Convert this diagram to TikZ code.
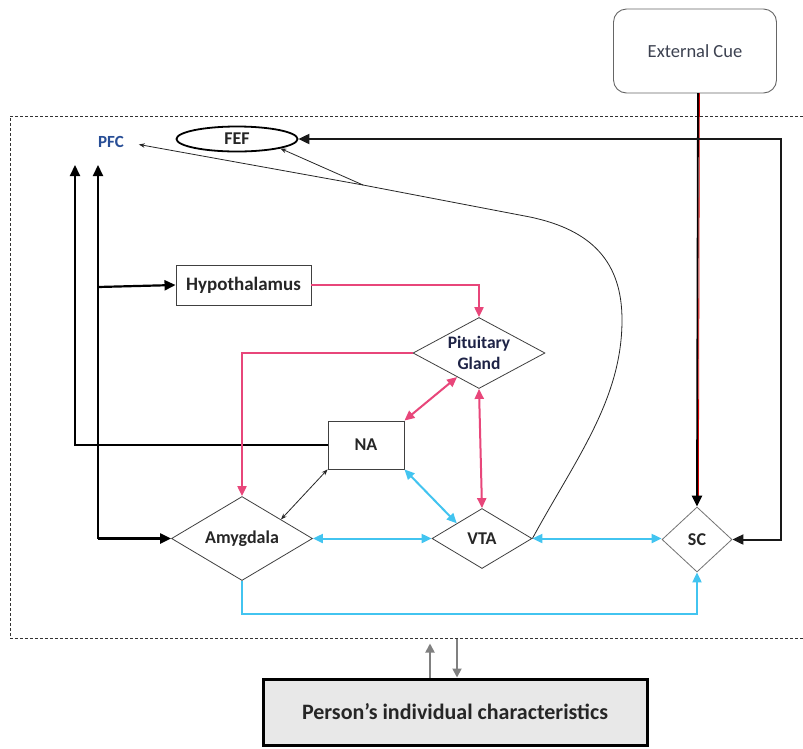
\documentclass[tikz,border=0pt]{standalone}
\usepackage{fontspec}
\setmainfont{Carlito}
\usetikzlibrary{shapes.geometric,arrows.meta,calc}
\definecolor{pinkc}{RGB}{232,70,122}
\definecolor{bluec}{RGB}{66,196,240}
\definecolor{pfcblue}{RGB}{40,78,150}
\definecolor{navy}{RGB}{30,35,70}
\definecolor{cuegray}{RGB}{60,65,80}
\definecolor{boxgray}{RGB}{232,232,232}
\begin{document}
\begin{tikzpicture}[x=1pt,y=-1pt,
  lbl/.style={font=\fontsize{18}{20}\selectfont\bfseries, text=black!85},
  rbox/.style={draw=black!75, line width=0.9pt, rectangle, inner sep=0pt},
  dia/.style={draw=black!75, line width=0.8pt, diamond, inner sep=0pt, minimum width=#1},
  blkarr/.style={draw=black, line width=2.2pt, -{Triangle[length=11pt,width=10pt]}},
  blkline/.style={draw=black, line width=2.2pt},
  pinkarr/.style={draw=pinkc, line width=2pt, -{Triangle[length=10pt,width=9pt]}},
  pinkdbl/.style={draw=pinkc, line width=2pt, {Triangle[length=10pt,width=9pt]}-{Triangle[length=10pt,width=9pt]}},
  bluearr/.style={draw=bluec, line width=2pt, -{Triangle[length=10pt,width=9pt]}},
  bluedbl/.style={draw=bluec, line width=2pt, {Triangle[length=10pt,width=9pt]}-{Triangle[length=10pt,width=9pt]}},
  thinarr/.style={draw=black!85, line width=0.8pt, -{Stealth[length=6pt,width=4.5pt]}},
  thindbl/.style={draw=black!85, line width=0.8pt, {Stealth[length=6pt,width=4.5pt]}-{Stealth[length=6pt,width=4.5pt]}},
  grayarr/.style={draw=black!50, line width=1.8pt, -{Triangle[length=9pt,width=9pt]}}
]
\useasboundingbox (0,0) rectangle (803,748);
\fill[white] (0,0) rectangle (803,748);

% dashed frame
\draw[black!80, line width=0.7pt, dash pattern=on 3pt off 2pt] (803,116) -- (10,116) -- (10,638) -- (803,638);

% nodes
\node[draw=black!60, line width=0.9pt, rounded corners=13pt, minimum width=163pt, minimum height=84pt,
      font=\fontsize{18.5}{20}\selectfont, text=cuegray] (ext) at (695,51) {External Cue};
\node[draw=black, line width=1.8pt, ellipse, minimum width=121pt, minimum height=25pt, inner sep=0pt, lbl] (fef) at (237,139) {FEF};
\node[font=\fontsize{17}{19}\selectfont\bfseries, text=pfcblue, inner sep=1pt] (pfc) at (111,142) {PFC};
\node[rbox, minimum width=135pt, minimum height=40pt, font=\fontsize{19}{21}\selectfont\bfseries, text=black!85] (hyp) at (243.5,285) {Hypothalamus};
\node[dia=132pt, minimum height=71pt,
      label={[font=\fontsize{17.5}{21}\selectfont\bfseries, text=navy, align=center]center:Pituitary\\Gland}] (pit) at (479,353) {};
\node[rbox, minimum width=76pt, minimum height=48pt, lbl] (na) at (366,445) {NA};
\node[dia=141pt, minimum height=84pt, label={[lbl]center:Amygdala}] (amy) at (242,538.5) {};
\node[dia=100pt, minimum height=60pt, label={[lbl]center:VTA}] (vta) at (482,538.5) {};
\node[dia=70pt, minimum height=65pt, draw=black!55, label={[lbl]center:SC}] (sc) at (697,539.5) {};
\node[draw=black, line width=3pt, fill=boxgray, minimum width=384pt, minimum height=66pt,
      font=\fontsize{22}{24}\selectfont\bfseries, text=black!85] (per) at (455,712) {Person’s individual characteristics};

% coordinates
\coordinate (pl) at (75,165);
\coordinate (pr) at (98,165);
\coordinate (prh) at (98,287);
\coordinate (pra) at (98,538.5);
\coordinate (rc) at (781,139);
\coordinate (mid) at (363,185);
\coordinate (fb) at (698,93);

% External cue -> SC
\draw[black, line width=1.8pt] (fb) -- ($(sc.north)+(0,-10)$);
\draw[red!85!black, line width=0.8pt] ($(fb)+(1.4,0)$) -- ($(sc.north)+(1.4,-10)$);
\draw[blkarr] ($(sc.north)+(0,-10)$) -- (sc.north);

% SC <-> FEF loop on right
\draw[draw=black!90, line width=2pt, {Triangle[length=11pt,width=10pt]}-{Triangle[length=11pt,width=10pt]}]
  (sc.east) -| (rc) -- (fef.east);

% left inputs to PFC
\draw[blkarr] (na.west) -| (pl);
\draw[blkline] (pra) -- (98,200);
\draw[blkarr] (98,200) -- (pr);
\draw[blkarr] (prh) -- (hyp.west);
\draw[blkarr] (pra) -- (amy.west);

% pink connectors
\draw[pinkarr] (hyp.east) -| (pit.north);
\draw[pinkarr] (pit.west) -| (amy.north);
\draw[pinkdbl] (na.north east) -- ($(pit.south)!0.33!(pit.west)$);
\draw[pinkdbl] (pit.south) -- (vta.north);

% blue connectors
\draw[bluedbl] (na.south east) -- ($(vta.north)!0.5!(vta.west)$);
\draw[bluedbl] (amy.east) -- (vta.west);
\draw[bluedbl] (vta.east) -- (vta.east -| sc.west);
\draw[bluearr] (amy.south) -- (242,614) -| (sc.south);

% thin black
\draw[thindbl] (na.south west) -- ($(amy.north)!0.55!(amy.east)$);
\draw[thinarr, shorten >=14pt] (vta.east) .. controls (575,460) and (622,400) .. (622,320)
  .. controls (622,262) and (592,230) .. (530,217) -- (mid) -- (pfc.east);
\draw[thinarr] (mid) -- (fef.south east);

% bottom gray arrows
\draw[grayarr] ($(per.north)+(-25,0)$) -- ++(0,-34);
\draw[grayarr] ($(per.north)+(2,-39)$) -- ++(0,39);
\end{tikzpicture}
\end{document}
